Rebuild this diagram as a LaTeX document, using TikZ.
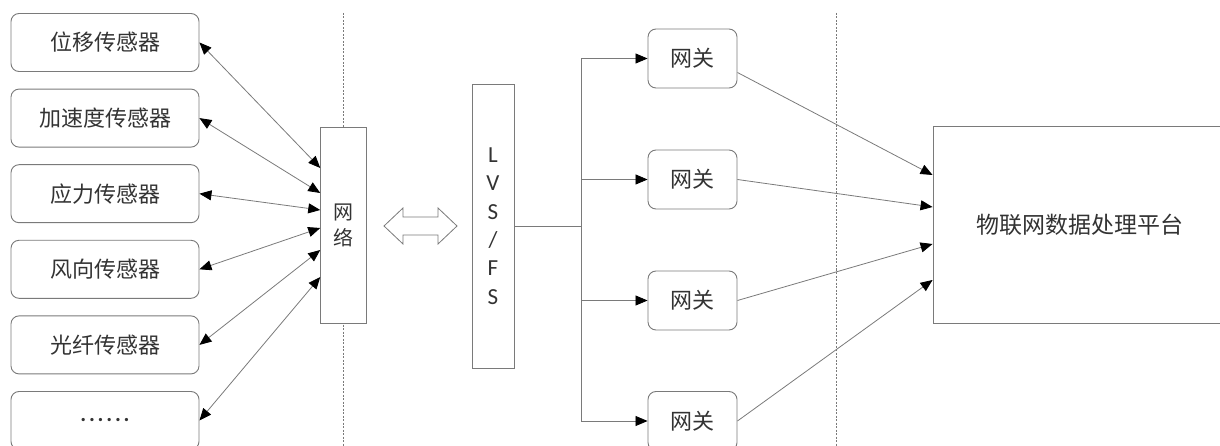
\documentclass[tikz,border=0pt]{standalone}
\usepackage{fontspec}
\setmainfont{Noto Sans CJK SC}
\newfontfamily\latinfont{Carlito}
\usetikzlibrary{arrows.meta,calc}
\definecolor{linegray}{HTML}{7A7A7A}
\definecolor{txtgray}{HTML}{333333}
\tikzset{
  sensorbox/.style={draw=linegray,line width=0.9pt,rounded corners=8pt,minimum width=188pt,minimum height=58pt,inner sep=0pt,text=txtgray,font=\fontsize{22}{22}\selectfont},
  gwbox/.style={draw=linegray,line width=0.9pt,rounded corners=8pt,minimum width=89pt,minimum height=59pt,inner sep=0pt,text=txtgray,font=\fontsize{22}{22}\selectfont},
  plainbox/.style={draw=linegray,line width=0.9pt,fill=white,inner sep=0pt,text=txtgray},
  conn/.style={draw=linegray,line width=0.8pt},
  sep/.style={draw=linegray,line width=0.6pt,dash pattern=on 2pt off 1.5pt},
}
\newcommand{\mydot}{.\kern2.8pt}
\begin{document}
\begin{tikzpicture}[x=1pt,y=-1pt,>={Triangle[length=12pt,width=10pt,color=black]}]
\useasboundingbox (0,0) rectangle (1220,446);
% separators
\coordinate (d1t) at (343,13);
\coordinate (d1b) at (343,446);
\coordinate (d2t) at (836,13);
\coordinate (d2b) at (836,446);
\draw[sep] (d1t) -- (d1b);
\draw[sep] (d2t) -- (d2b);
% sensors
\node[sensorbox] (s1) at (105,42.5) {位移传感器};
\node[sensorbox] (s2) at (105,118.1) {加速度传感器};
\node[sensorbox] (s3) at (105,193.7) {应力传感器};
\node[sensorbox] (s4) at (105,269.3) {风向传感器};
\node[sensorbox] (s5) at (105,344.9) {光纤传感器};
\node[sensorbox] (s6) at (105,420.5) {\raisebox{-0.05em}{\latinfont\bfseries\mydot\mydot\mydot\mydot\mydot.}};
% network box
\node[plainbox,minimum width=46pt,minimum height=196pt,align=center,font=\fontsize{20}{26}\selectfont] (net) at (343.7,225) {网\\络};
% LVS/FS
\node[plainbox,minimum width=42pt,minimum height=284pt,align=center,font=\latinfont\fontsize{23}{28.3}\selectfont] (lvs) at (493,226) {L\\V\\S\\/\\F\\S};
% platform
\node[plainbox,minimum width=290pt,minimum height=196.6pt,font=\fontsize{23}{23}\selectfont] (plat) at (1078,225) {\hspace*{4pt}物联网数据处理平台};
% gateways
\node[gwbox] (g1) at (692.5,58.5) {网关};
\node[gwbox] (g2) at (692.5,179.5) {网关};
\node[gwbox] (g3) at (692.5,300.5) {网关};
\node[gwbox] (g4) at (692.5,421) {网关};
% sensor <-> network
\draw[conn,<->] (s1.east) -- ($(net.west)+(0,-57)$);
\draw[conn,<->] (s2.east) -- ($(net.west)+(0,-32)$);
\draw[conn,<->] (s3.east) -- ($(net.west)+(0,-15)$);
\draw[conn,<->] (s4.east) -- ($(net.west)+(0,3)$);
\draw[conn,<->] (s5.east) -- ($(net.west)+(0,25)$);
\draw[conn,<->] (s6.east) -- ($(net.west)+(0,52)$);
% hollow double arrow
\draw[draw=linegray,line width=0.8pt,fill=white,line join=miter]
  (384,226) -- (403,208) -- (403,217) -- (438,217) -- (438,208) -- (457,226)
  -- (438,244) -- (438,235) -- (403,235) -- (403,244) -- cycle;
% LVS to gateways
\coordinate (tr) at (581,226);
\coordinate (tt) at (581,58.5);
\coordinate (tb) at (581,421);
\draw[conn] (lvs.east) -- (tr);
\draw[conn] (tt) -- (tb);
\draw[conn,->] (tt) -- (g1.west);
\draw[conn,->] (tt |- g2.west) -- (g2.west);
\draw[conn,->] (tt |- g3.west) -- (g3.west);
\draw[conn,->] (tb) -- (g4.west);
% gateways to platform
\draw[conn,->] ($(g1.east)+(0,14)$) -- ($(plat.west)+(0,-50)$);
\draw[conn,->] (g2.east) -- ($(plat.west)+(0,-18)$);
\draw[conn,->] (g3.east) -- ($(plat.west)+(0,19)$);
\draw[conn,->] (g4.east) -- ($(plat.west)+(0,55)$);
\end{tikzpicture}
\end{document}
